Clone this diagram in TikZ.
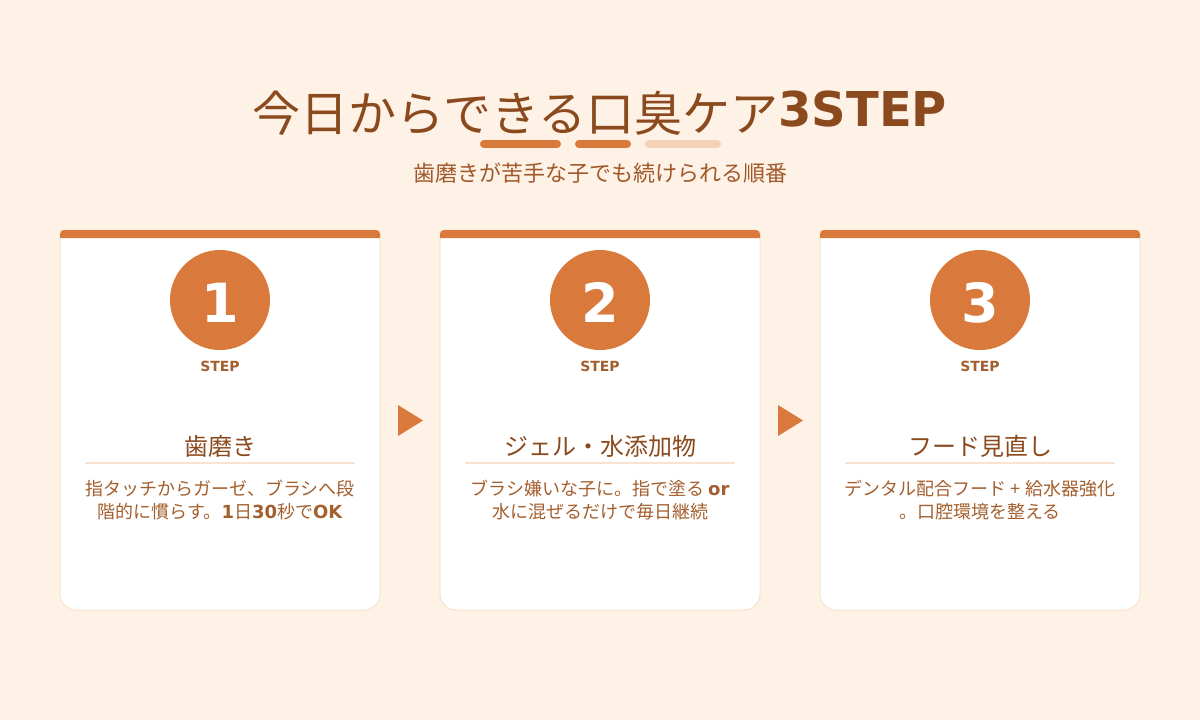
\documentclass[tikz,border=0pt]{standalone}
\usepackage{fontspec}
\newfontfamily\jp{Noto Sans CJK JP}
\newfontfamily\latb{DejaVu Sans}[UprightFont=* Bold]
\definecolor{bg}{HTML}{FEF1E5}
\definecolor{accent}{HTML}{D97A3C}
\definecolor{peach}{HTML}{F7D1B5}
\definecolor{titlec}{HTML}{8B4A1E}
\definecolor{subc}{HTML}{A0592B}
\definecolor{bodyc}{HTML}{A45F2E}
\definecolor{border}{HTML}{F9E2CF}
\tikzset{
  txt/.style={inner sep=0pt, anchor=base},
  bar/.style={line width=8pt, line cap=round},
  cardbox/.style={fill=white, draw=border, line width=1pt},
  numcircle/.style={circle, fill=accent, minimum size=100pt, inner sep=0pt},
  arrowtri/.style={fill=accent},
}
\begin{document}
\begin{tikzpicture}[x=1pt,y=-1pt]
\fill[bg] (0,0) rectangle (1200,720);
\useasboundingbox (0,0) rectangle (1200,720);
% title
\node[txt, text=titlec, font=\fontsize{48}{48}\selectfont] (title) at (600,131) {{\jp 今日からできる口臭ケア}\raisebox{5pt}{\latb 3STEP}};
\draw[bar, accent] (484,144) -- (557,144);
\draw[bar, accent] (579,144) -- (627,144);
\draw[bar, peach] (649,144) -- (717,144);
\node[txt, text=subc, font=\jp\fontsize{22}{22}\selectfont] (subtitle) at (600,181) {歯磨きが苦手な子でも続けられる順番};
% cards
\foreach \i/\cx in {1/220, 2/600, 3/980}{
  \filldraw[cardbox] (\cx-160,234) arc[start angle=180,end angle=270,radius=4] -- (\cx+156,230) arc[start angle=270,end angle=360,radius=4] -- (\cx+160,594) arc[start angle=0,end angle=90,radius=16] -- (\cx-144,610) arc[start angle=90,end angle=180,radius=16] -- cycle;
  \fill[accent] (\cx-160,238) -- (\cx-160,234) arc[start angle=180,end angle=270,radius=4] -- (\cx+156,230) arc[start angle=270,end angle=360,radius=4] -- (\cx+160,238) -- cycle;
  \node[numcircle] (c\i) at (\cx,300) {};
  \node[txt, text=white, font=\latb\fontsize{54}{54}\selectfont] (n\i) at (\cx,322) {\i};
  \node[txt, text=bodyc, font=\latb\fontsize{14}{14}\selectfont] (s\i) at (\cx,371) {STEP};
  \draw[border, line width=2pt] (\cx-135,463) -- (\cx+135,463);
}
\node[txt, text=titlec, font=\jp\fontsize{24}{24}\selectfont] (h1) at (220,455) {歯磨き};
\node[txt, text=titlec, font=\jp\fontsize{24}{24}\selectfont] (h2) at (600,455) {ジェル・水添加物};
\node[txt, text=titlec, font=\jp\fontsize{24}{24}\selectfont] (h3) at (980,455) {フード見直し};
\tikzset{bodyfont/.style={txt, text=bodyc, font=\jp\fontsize{18}{18}\selectfont}}
\node[bodyfont] (b1a) at (220,495) {指タッチからガーゼ、ブラシへ段};
\node[bodyfont] (b1b) at (220,518) {階的に慣らす。{\latb 1}日{\latb 30}秒で{\latb OK}};
\node[bodyfont] (b2a) at (600,495) {ブラシ嫌いな子に。指で塗る {\latb or}};
\node[bodyfont] (b2b) at (600,518) {水に混ぜるだけで毎日継続};
\node[bodyfont] (b3a) at (980,495) {デンタル配合フード + 給水器強化};
\node[bodyfont] (b3b) at (980,518) {。口腔環境を整える};
% arrows
\fill[arrowtri] (398,405) -- (423,420.5) -- (398,436) -- cycle;
\fill[arrowtri] (778,405) -- (803,420.5) -- (778,436) -- cycle;
\end{tikzpicture}
\end{document}
